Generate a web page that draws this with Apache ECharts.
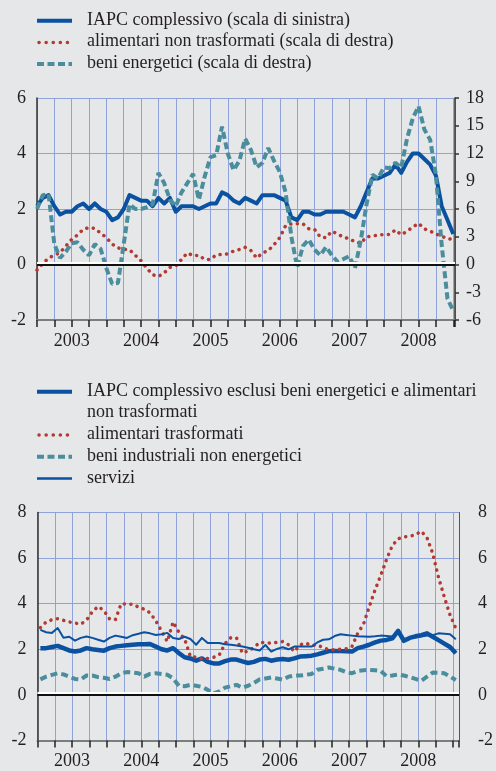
<!DOCTYPE html>
<html>
<head>
<meta charset="utf-8">
<script src="https://cdn.jsdelivr.net/npm/echarts@6/dist/echarts.min.js"></script>
<style>
  html, body { margin: 0; padding: 0; background: #e6e7e9; }
  #chart { width: 496px; height: 771px; }
</style>
</head>
<body>
<div id="chart"></div>
<script>
// dati mensili: gennaio 2003 - gennaio 2009
const years = ['2003', '2004', '2005', '2006', '2007', '2008'];

// pannello superiore
const iapc = [
  2.1, 2.4, 2.5, 2.1, 1.8, 1.9, 1.9, 2.1, 2.2, 2.0, 2.2, 2.0,
  1.9, 1.6, 1.7, 2.0, 2.5, 2.4, 2.3, 2.3, 2.1, 2.4, 2.2, 2.4,
  1.9, 2.1, 2.1, 2.1, 2.0, 2.1, 2.2, 2.2, 2.6, 2.5, 2.3, 2.2,
  2.4, 2.3, 2.2, 2.5, 2.5, 2.5, 2.4, 2.3, 1.7, 1.6, 1.9, 1.9,
  1.8, 1.8, 1.9, 1.9, 1.9, 1.9, 1.8, 1.7, 2.1, 2.6, 3.1, 3.1,
  3.2, 3.3, 3.6, 3.3, 3.7, 4.0, 4.0, 3.8, 3.6, 3.2, 2.1, 1.6,
  1.1
];
const alimNonTrasf = [
  -0.6, 0.1, 0.7, 1.0, 1.3, 2.0, 2.7, 3.2, 3.8, 4.0, 3.9, 3.4,
  2.9, 2.2, 1.8, 1.65, 1.6, 1.0, 0.4, -0.4, -1.1, -1.3, -0.9, -0.3,
  -0.15, 0.55, 1.25, 0.95, 1.0, 0.55, 0.55, 1.05, 1.08, 1.15, 1.45, 1.62,
  1.85, 1.5, 0.7, 1.24, 1.5, 2.15, 2.9, 4.2, 4.4, 4.4, 4.4, 3.87,
  3.8, 2.97, 2.9, 3.6, 3.3, 2.95, 2.8, 2.45, 2.28, 3.0, 3.05, 3.2,
  3.24, 3.26, 3.75, 3.22, 3.59, 4.05, 4.45, 3.85, 3.6, 3.3, 3.05, 2.8,
  2.7
];
const energetici = [
  6.0, 7.5, 7.6, 2.2, 0.7, 1.4, 2.3, 2.4, 1.6, 1.0, 2.2, 1.7,
  -0.4, -2.1, -2.0, 2.2, 6.5, 6.0, 6.0, 6.2, 6.5, 9.9, 8.8, 7.0,
  6.3, 7.8, 8.8, 9.8, 7.0, 9.5, 11.6, 11.8, 14.9, 12.0, 10.2, 11.2,
  13.6, 12.4, 10.5, 11.0, 12.6, 11.2, 10.0, 7.8, 3.0, -0.3, 2.0, 2.7,
  1.6, 1.0, 1.9, 1.0, 0.3, 0.6, 0.9, -0.4, 2.6, 6.5, 9.7, 9.3,
  10.5, 10.4, 11.0, 10.5, 13.6, 15.8, 17.1, 14.6, 13.5, 9.7, 2.1, -3.7,
  -5.0
];

// pannello inferiore
const iapcCore = [
  2.05, 2.05, 2.1, 2.15, 2.05, 1.95, 1.9, 1.95, 2.05, 2.0, 1.97, 1.94,
  2.05, 2.12, 2.15, 2.18, 2.2, 2.22, 2.22, 2.23, 2.12, 2.0, 1.95, 2.05,
  1.83, 1.65, 1.6, 1.5, 1.6, 1.45, 1.38, 1.38, 1.48, 1.55, 1.55, 1.47,
  1.4, 1.45, 1.55, 1.58, 1.5, 1.55, 1.57, 1.54, 1.6, 1.68, 1.7, 1.72,
  1.78, 1.85, 1.92, 1.93, 1.92, 1.91, 1.9, 2.05, 2.12, 2.2, 2.3, 2.38,
  2.41, 2.48, 2.81, 2.37, 2.5, 2.57, 2.62, 2.7, 2.55, 2.4, 2.25, 2.1,
  1.83
];
const alimTrasf = [
  2.95, 3.2, 3.3, 3.34, 3.27, 3.2, 3.15, 3.1, 3.28, 3.65, 3.88, 3.7,
  3.33, 3.3, 4.0, 3.98, 3.98, 3.85, 3.76, 3.6, 3.25, 2.8, 2.34, 3.2,
  2.75, 2.45, 1.68, 1.66, 1.57, 1.6, 1.65, 1.75, 2.25, 2.51, 2.5, 1.83,
  1.93, 2.07, 2.31, 2.28, 2.27, 2.3, 2.34, 2.2, 1.9, 2.2, 2.27, 2.17,
  2.18, 2.08, 1.98, 1.98, 2.0, 2.02, 2.12, 2.7, 3.1, 3.87, 4.6, 5.25,
  5.95, 6.55, 6.85, 6.92, 6.96, 7.02, 7.18, 6.9, 6.2, 5.15, 4.3, 3.5,
  2.92
];
const industrialiNonEn = [
  0.68, 0.8, 0.88, 0.95, 0.9, 0.8, 0.7, 0.68, 0.85, 0.85, 0.78, 0.75,
  0.7, 0.8, 0.95, 1.0, 0.98, 0.95, 0.8, 0.92, 0.95, 0.92, 0.88, 0.73,
  0.4, 0.38, 0.44, 0.4, 0.35, 0.22, 0.06, 0.15, 0.32, 0.38, 0.44, 0.32,
  0.4, 0.52, 0.68, 0.72, 0.76, 0.72, 0.67, 0.8, 0.85, 0.85, 0.88, 0.92,
  1.1, 1.15, 1.2, 1.15, 1.1, 1.0, 0.95, 1.05, 1.08, 1.1, 1.08, 1.05,
  0.82, 0.85, 0.9, 0.85, 0.78, 0.7, 0.62, 0.8, 0.98, 0.97, 0.95, 0.8,
  0.65
];
const servizi = [
  2.85, 2.75, 2.72, 2.93, 2.51, 2.55, 2.38, 2.5, 2.56, 2.5, 2.42, 2.34,
  2.5, 2.6, 2.55, 2.5, 2.62, 2.68, 2.75, 2.7, 2.63, 2.66, 2.72, 2.5,
  2.45, 2.55, 2.45, 2.2, 2.5, 2.28, 2.28, 2.28, 2.22, 2.2, 2.17, 2.12,
  2.07, 2.0, 1.95, 2.19, 1.9, 2.02, 2.09, 2.0, 2.12, 2.12, 2.12, 2.12,
  2.3, 2.42, 2.44, 2.58, 2.66, 2.63, 2.6, 2.57, 2.56, 2.55, 2.57, 2.6,
  2.58, 2.56, 2.75, 2.45, 2.49, 2.52, 2.56, 2.6, 2.62, 2.7, 2.68, 2.66,
  2.44
];

const BLU = '#0a51a1';
const ROSSO = '#b23a30';
const TEAL = '#4a8d9c';
const GRIGLIA = '#8fa2dc';
const TESTO = '#231f20';
const FONT = 'Liberation Serif';
const FS = 18;

// posizione mese: il pannello inferiore è centrato a metà mese
const pts = (arr, shift) => arr.map((v, i) => [i + shift, v]);
const yearPos = years.map((y, i) => i * 12 + 6);

const zeroLine = {
  silent: true,
  symbol: 'none',
  label: { show: false },
  lineStyle: { color: '#111', width: 2, type: 'solid', shadowColor: '#ffffff', shadowOffsetY: -2, shadowBlur: 0 },
  data: [{ yAxis: 0 }]
};

function xAxisFor(gridIndex, max) {
  return {
    gridIndex: gridIndex,
    type: 'value',
    min: 0,
    max: max,
    interval: 3,
    axisLine: { show: true, onZero: false, lineStyle: { color: '#7d7d7d', width: 2 } },
    axisTick: { show: true, length: 7, lineStyle: { color: '#222', width: 1.5 } },
    axisLabel: {
      customValues: yearPos,
      formatter: (v) => years[(v - 6) / 12],
      margin: 12,
      fontFamily: FONT, fontSize: FS, color: TESTO
    },
    splitLine: { show: true, lineStyle: { color: GRIGLIA, width: 1 } }
  };
}

function legendGraphic(items, top) {
  const out = [];
  let y = top;
  items.forEach((it) => {
    const ls = { stroke: it.color, lineWidth: it.width, lineCap: it.cap || 'butt' };
    if (it.dash) ls.lineDash = it.dash;
    out.push({ type: 'line', shape: { x1: it.x1 || 37, y1: y, x2: 72, y2: y }, style: ls });
    out.push({
      type: 'text', x: 87, y: y - 11.5,
      style: { text: it.text, fontFamily: FONT, fontSize: FS, fill: TESTO, verticalAlign: 'top', lineHeight: 21.7 }
    });
    y += it.lines * 21.7;
  });
  return out;
}

const legendTop = legendGraphic([
  { text: 'IAPC complessivo (scala di sinistra)', color: BLU, width: 4, lines: 1 },
  { text: 'alimentari non trasformati (scala di destra)', color: ROSSO, width: 3.5, dash: [0.1, 7], cap: 'round', x1: 39, lines: 1 },
  { text: 'beni energetici (scala di destra)', color: TEAL, width: 4, dash: [7, 3.5], lines: 1 }
], 20.7);

const legendBottom = legendGraphic([
  { text: 'IAPC complessivo esclusi beni energetici e alimentari\nnon trasformati', color: BLU, width: 4, lines: 2 },
  { text: 'alimentari trasformati', color: ROSSO, width: 3.5, dash: [0.1, 7], cap: 'round', x1: 39, lines: 1 },
  { text: 'beni industriali non energetici', color: TEAL, width: 4, dash: [7, 3.5], lines: 1 },
  { text: 'servizi', color: BLU, width: 2.5, lines: 1 }
], 391.7);

const axisText = { fontFamily: FONT, fontSize: FS, color: TESTO };

const chart = echarts.init(document.getElementById('chart'));
chart.setOption({
  backgroundColor: '#e6e7e9',
  animation: false,
  graphic: legendTop.concat(legendBottom),
  grid: [
    { left: 37, top: 98, width: 418, height: 222 },
    { left: 37.5, top: 512.5, width: 431, height: 228 }
  ],
  xAxis: [xAxisFor(0, 72.3), xAxisFor(1, 73.05)],
  yAxis: [
    {
      gridIndex: 0, type: 'value', position: 'left', min: -2, max: 6, interval: 2,
      axisLine: { show: true, lineStyle: { color: '#333', width: 1.5 } },
      axisTick: { show: false },
      axisLabel: Object.assign({ margin: 11 }, axisText),
      splitLine: { show: true, lineStyle: { color: GRIGLIA, width: 1 } }
    },
    {
      gridIndex: 0, type: 'value', position: 'right', min: -6, max: 18, interval: 3,
      axisLine: { show: true, lineStyle: { color: '#333', width: 1.5 } },
      axisTick: { show: true, length: 4, lineStyle: { color: '#333', width: 1.5 } },
      axisLabel: Object.assign({ margin: 11 }, axisText),
      splitLine: { show: false }
    },
    {
      gridIndex: 1, type: 'value', position: 'left', min: -2, max: 8, interval: 2,
      axisLine: { show: true, lineStyle: { color: '#333', width: 1.5 } },
      axisTick: { show: false },
      axisLabel: Object.assign({ margin: 11 }, axisText),
      splitLine: { show: true, lineStyle: { color: GRIGLIA, width: 1 } }
    },
    {
      gridIndex: 1, type: 'value', position: 'right', min: -2, max: 8, interval: 2,
      axisLine: { show: true, lineStyle: { color: '#555', width: 1 } },
      axisTick: { show: false },
      axisLabel: Object.assign({ margin: 19 }, axisText),
      splitLine: { show: false }
    }
  ],
  series: [
    {
      name: 'IAPC complessivo (scala di sinistra)', type: 'line',
      xAxisIndex: 0, yAxisIndex: 0, data: pts(iapc, 0),
      showSymbol: false, lineStyle: { color: BLU, width: 4, join: 'round' },
      markLine: zeroLine, z: 3
    },
    {
      name: 'alimentari non trasformati (scala di destra)', type: 'line',
      xAxisIndex: 0, yAxisIndex: 1, data: pts(alimNonTrasf, 0),
      showSymbol: false, lineStyle: { color: ROSSO, width: 3.5, type: [0.1, 6.5], cap: 'round' }, z: 3
    },
    {
      name: 'beni energetici (scala di destra)', type: 'line',
      xAxisIndex: 0, yAxisIndex: 1, data: pts(energetici, 0),
      showSymbol: false, lineStyle: { color: TEAL, width: 4, type: [7, 3.5] }, z: 3
    },
    {
      name: 'IAPC complessivo esclusi beni energetici e alimentari non trasformati', type: 'line',
      xAxisIndex: 1, yAxisIndex: 2, data: pts(iapcCore, 0.5),
      showSymbol: false, lineStyle: { color: BLU, width: 4.5, join: 'round' },
      markLine: zeroLine, z: 3
    },
    {
      name: 'alimentari trasformati', type: 'line',
      xAxisIndex: 1, yAxisIndex: 2, data: pts(alimTrasf, 0.5),
      showSymbol: false, lineStyle: { color: ROSSO, width: 3.5, type: [0.1, 6.5], cap: 'round' }, z: 3
    },
    {
      name: 'beni industriali non energetici', type: 'line',
      xAxisIndex: 1, yAxisIndex: 2, data: pts(industrialiNonEn, 0.5),
      showSymbol: false, lineStyle: { color: TEAL, width: 4, type: [7, 4] }, z: 3
    },
    {
      name: 'servizi', type: 'line',
      xAxisIndex: 1, yAxisIndex: 2, data: pts(servizi, 0.5),
      showSymbol: false, lineStyle: { color: BLU, width: 2, join: 'round' }, z: 3
    }
  ]
});
</script>
</body>
</html>
